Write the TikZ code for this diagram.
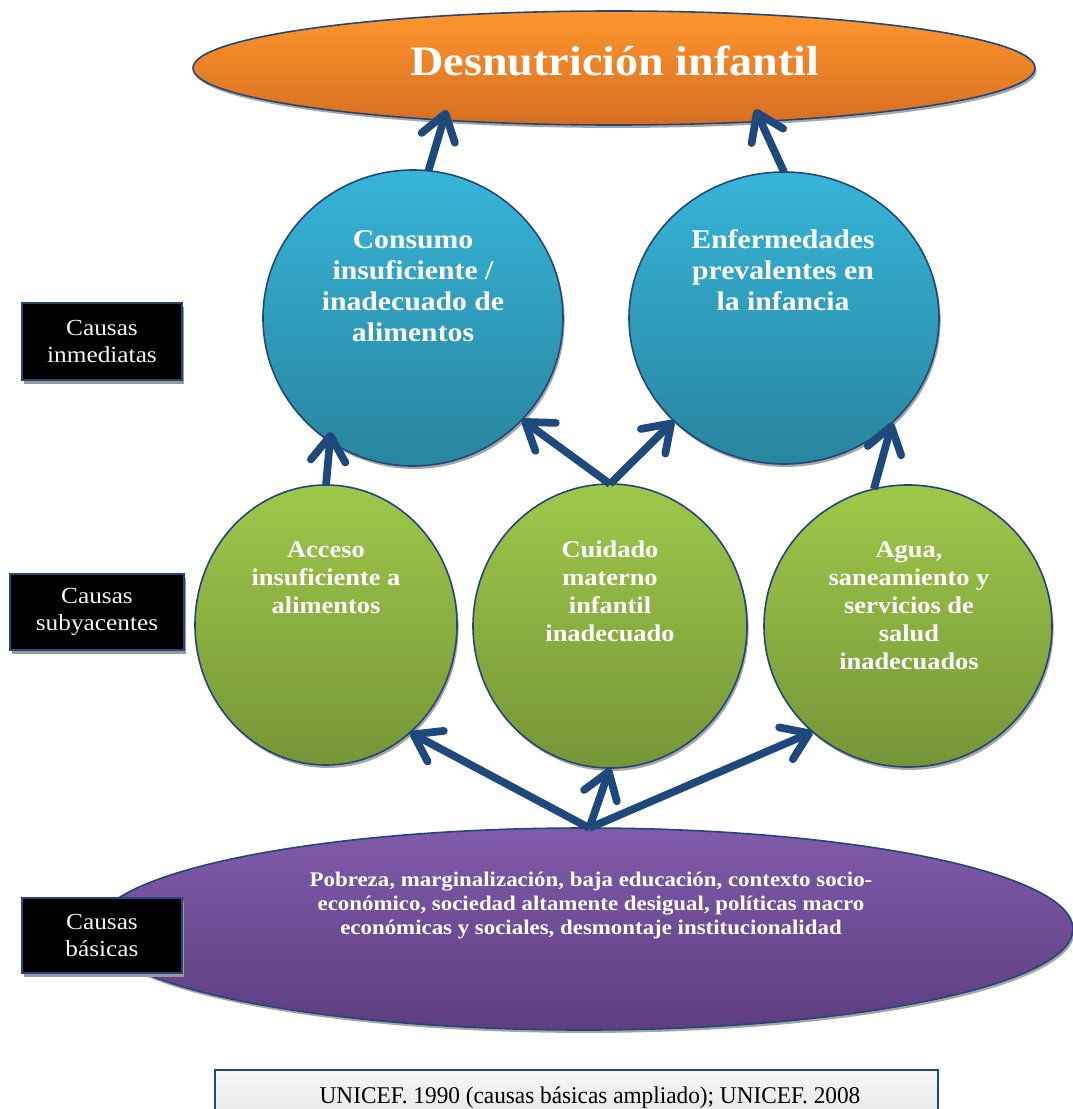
\documentclass[tikz,border=0pt]{standalone}
\usepackage{fontspec}
\newfontfamily\cam[FakeStretch=1.1]{Liberation Serif}
\newfontfamily\camn[FakeStretch=0.97]{Liberation Serif}
\usetikzlibrary{shapes.geometric,arrows.meta,shadows}
\definecolor{arr}{RGB}{31,73,125}
\definecolor{bdr}{RGB}{36,70,120}
\definecolor{orT}{RGB}{254,150,46}
\definecolor{orB}{RGB}{214,110,34}
\definecolor{blT}{RGB}{55,180,216}
\definecolor{blB}{RGB}{40,133,158}
\definecolor{grT}{RGB}{158,200,74}
\definecolor{grB}{RGB}{117,150,55}
\definecolor{puT}{RGB}{128,91,170}
\definecolor{puB}{RGB}{93,62,128}
\begin{document}
\begin{tikzpicture}[x=0.75pt,y=-0.75pt,
  shp/.style={ellipse, inner sep=0pt, outer sep=0pt, draw=bdr, line width=1.2pt,
    general shadow={fill=black!35, shadow xshift=1.2pt, shadow yshift=-2.2pt}},
  el/.style 2 args={shp, minimum width=#1*1.5pt, minimum height=#2*1.5pt},
  lblB/.style={anchor=north, inner sep=0pt, align=center, text=white,
    font=\cam\bfseries\fontsize{20.25}{23.25}\selectfont},
  lblG/.style={anchor=north, inner sep=0pt, align=center, text=white,
    font=\cam\bfseries\fontsize{18}{21}\selectfont},
  cbox/.style={rectangle, fill=black, draw=bdr, line width=1.5pt, text=gray!8,
    align=center, inner sep=0pt, font=\cam\fontsize{17.25}{20.25}\selectfont,
    general shadow={fill=black!40, shadow xshift=1.5pt, shadow yshift=-3pt}},
  con/.style={draw=arr, line width=5.8pt, -{Straight Barb[length=19pt,width=26pt,round]}}
]
\useasboundingbox (0,0) rectangle (1073,1109);
\clip (0,0) rectangle (1073,1109);
\fill[white] (0,0) rectangle (1073,1109);

% top
\node[el={421}{57}, top color=orT, bottom color=orB] (O) at (614,68) {};
\node[anchor=base, inner sep=0pt, text=white, font=\cam\bfseries\fontsize{31.5}{36}\selectfont] (Ot) at (615,76) {Desnutrición infantil};

% immediate causes
\node[el={150}{148}, top color=blT, bottom color=blB] (b1) at (413,318) {};
\node[lblB] (b1t) at (413,230) {Consumo\\insuficiente /\\inadecuado de\\alimentos};
\node[el={155}{146}, top color=blT, bottom color=blB] (b2) at (784,318) {};
\node[lblB] (b2t) at (783,229) {Enfermedades\\prevalentes en\\la infancia};

% underlying causes
\node[el={131}{140}, top color=grT, bottom color=grB] (g1) at (326,625) {};
\node[lblG] (g1t) at (326,541) {Acceso\\insuficiente a\\alimentos};
\node[el={137}{142}, top color=grT, bottom color=grB] (g2) at (610,626) {};
\node[lblG] (g2t) at (610,541) {Cuidado\\materno\\infantil\\inadecuado};
\node[el={144}{141}, top color=grT, bottom color=grB] (g3) at (908,626) {};
\node[lblG] (g3t) at (909,541) {Agua,\\saneamiento y\\servicios de\\salud\\inadecuados};

% basic causes
\node[el={489}{101}, top color=puT, bottom color=puB] (P) at (584,929) {};
\node[anchor=north, inner sep=0pt, align=center, text=white,
  font=\cam\bfseries\fontsize{15.6}{18}\selectfont] (Pt) at (591,872)
  {Pobreza, marginalización, baja educación, contexto socio-\\económico, sociedad altamente desigual, políticas macro\\económicas y sociales, desmontaje institucionalidad};

% side labels
\node[cbox, minimum width=160*0.75pt, minimum height=77*0.75pt] (k1) at (102,341.5) {Causas\\inmediatas};
\node[cbox, minimum width=174*0.75pt, minimum height=76*0.75pt] (k2) at (97,612) {Causas\\subyacentes};
\node[cbox, minimum width=160*0.75pt, minimum height=75*0.75pt] (k3) at (102,935.5) {Causas\\básicas};

% source box
\node[rectangle, draw=bdr, line width=1.2pt, top color=gray!6, bottom color=gray!28,
  minimum width=723*0.75pt, minimum height=80*0.75pt, anchor=north, inner sep=0pt] (src) at (576.5,1069) {};
\node[anchor=base, inner sep=0pt, font=\camn\fontsize{18}{21}\selectfont] (srct) at (590,1103)
  {UNICEF. 1990 (causas básicas ampliado); UNICEF. 2008};

% connectors
\draw[con, shorten >=-8pt] (b1.84) -- (O.-163);
\draw[con, shorten >=-10pt] (b2.90) -- (O.-20);
\draw[con, shorten >=-7pt] (g1.north) -- (b1.-124);
\draw[con] (g2.north) -- (b1.-43);
\draw[con] (g2.north) -- (b2.-137);
\draw[con] (g3.104) -- (b2.-44);
\draw[con] (P.87) -- (g1.-52);
\draw[con] (P.87) -- (g2.south);
\draw[con] (P.87) -- (g3.-132);
\end{tikzpicture}
\end{document}
